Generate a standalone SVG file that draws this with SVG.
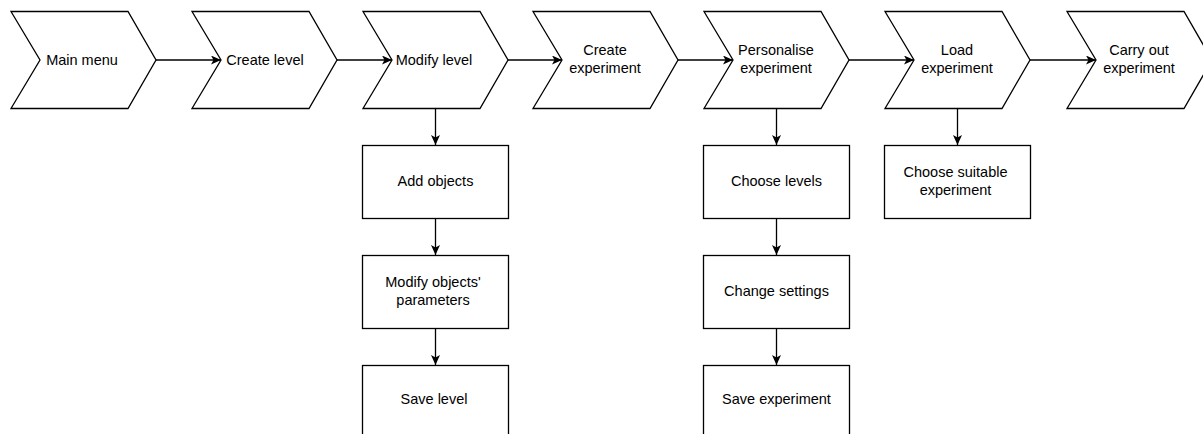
<svg xmlns="http://www.w3.org/2000/svg" width="1203" height="434" viewBox="0 0 1203 434">
<defs>
<style>
.shape{fill:#fff;stroke:#000;stroke-width:1.3;stroke-linejoin:miter}
.lbl{font-family:"Liberation Sans",Arial,Helvetica,sans-serif;font-size:14.5px;fill:#000;text-anchor:middle}
.conn{fill:none;stroke:#000;stroke-width:1.3}
</style>
<marker id="arr" markerUnits="userSpaceOnUse" markerWidth="12" markerHeight="10" refX="10" refY="4.5" orient="auto">
<path d="M0,0 L10,4.5 L0,9 L2.5,4.5 Z" fill="#000"/>
</marker>
</defs>
<rect width="1203" height="434" fill="#fff"/>
<g id="connectors">
<path class="conn" d="M156,60 L221,60" marker-end="url(#arr)"/>
<path class="conn" d="M337,60 L392,60" marker-end="url(#arr)"/>
<path class="conn" d="M508,60 L562,60" marker-end="url(#arr)"/>
<path class="conn" d="M678,60 L733,60" marker-end="url(#arr)"/>
<path class="conn" d="M849,60 L914,60" marker-end="url(#arr)"/>
<path class="conn" d="M1030,60 L1096,60" marker-end="url(#arr)"/>
<path class="conn" d="M435.5,108.5 L435.5,145" marker-end="url(#arr)"/>
<path class="conn" d="M435.5,218 L435.5,255" marker-end="url(#arr)"/>
<path class="conn" d="M435.5,328 L435.5,365" marker-end="url(#arr)"/>
<path class="conn" d="M776.5,108.5 L776.5,145" marker-end="url(#arr)"/>
<path class="conn" d="M776.5,218 L776.5,255" marker-end="url(#arr)"/>
<path class="conn" d="M776.5,328 L776.5,365" marker-end="url(#arr)"/>
<path class="conn" d="M957.5,108.5 L957.5,145" marker-end="url(#arr)"/>
</g>
<g id="main-menu">
<path class="shape" d="M11,11.5 L128,11.5 L156,60 L128,108.5 L11,108.5 L40,60 Z"/>
<text class="lbl" x="82" y="65">Main menu</text>
</g>
<g id="create-level">
<path class="shape" d="M192,11.5 L309,11.5 L337,60 L309,108.5 L192,108.5 L221,60 Z"/>
<text class="lbl" x="265" y="65">Create level</text>
</g>
<g id="modify-level">
<path class="shape" d="M363,11.5 L480,11.5 L508,60 L480,108.5 L363,108.5 L392,60 Z"/>
<text class="lbl" x="434" y="65">Modify level</text>
</g>
<g id="create-experiment">
<path class="shape" d="M533,11.5 L650,11.5 L678,60 L650,108.5 L533,108.5 L562,60 Z"/>
<text class="lbl" x="605" y="55">Create</text>
<text class="lbl" x="605" y="73">experiment</text>
</g>
<g id="personalise-experiment">
<path class="shape" d="M704,11.5 L821,11.5 L849,60 L821,108.5 L704,108.5 L733,60 Z"/>
<text class="lbl" x="776" y="55">Personalise</text>
<text class="lbl" x="776" y="73">experiment</text>
</g>
<g id="load-experiment">
<path class="shape" d="M885,11.5 L1002,11.5 L1030,60 L1002,108.5 L885,108.5 L914,60 Z"/>
<text class="lbl" x="957" y="55">Load</text>
<text class="lbl" x="957" y="73">experiment</text>
</g>
<g id="carry-out-experiment">
<path class="shape" d="M1067,11.5 L1184,11.5 L1212,60 L1184,108.5 L1067,108.5 L1096,60 Z"/>
<text class="lbl" x="1139" y="55">Carry out</text>
<text class="lbl" x="1139" y="73">experiment</text>
</g>
<g id="add-objects">
<rect class="shape" x="362.5" y="145.5" width="146" height="73"/>
<text class="lbl" x="435.5" y="186">Add objects</text>
</g>
<g id="modify-objects-parameters">
<rect class="shape" x="362.5" y="255.5" width="146" height="73"/>
<text class="lbl" x="433" y="287">Modify objects'</text>
<text class="lbl" x="433" y="305">parameters</text>
</g>
<g id="save-level">
<rect class="shape" x="362.5" y="365.5" width="146" height="73"/>
<text class="lbl" x="434" y="404">Save level</text>
</g>
<g id="choose-levels">
<rect class="shape" x="703.5" y="145.5" width="146" height="73"/>
<text class="lbl" x="776.5" y="186">Choose levels</text>
</g>
<g id="change-settings">
<rect class="shape" x="703.5" y="255.5" width="146" height="73"/>
<text class="lbl" x="776.5" y="296">Change settings</text>
</g>
<g id="save-experiment">
<rect class="shape" x="703.5" y="365.5" width="146" height="73"/>
<text class="lbl" x="776.5" y="404">Save experiment</text>
</g>
<g id="choose-suitable-experiment">
<rect class="shape" x="884.5" y="145.5" width="146" height="73"/>
<text class="lbl" x="955.5" y="177">Choose suitable</text>
<text class="lbl" x="955.5" y="195">experiment</text>
</g>
</svg>
